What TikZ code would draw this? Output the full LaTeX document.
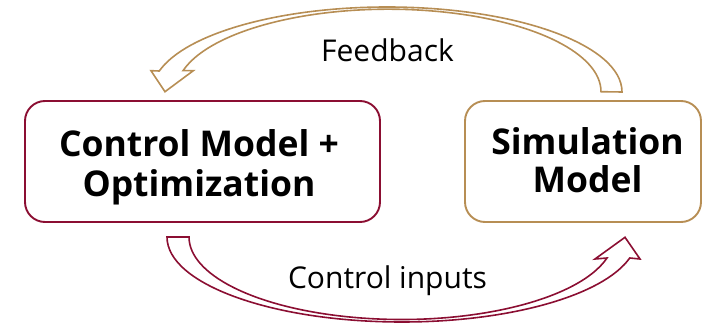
\documentclass[tikz,border=0pt]{standalone}
\usepackage{fontspec}
\setmainfont{Open Sans}
\definecolor{crim}{RGB}{139,14,50}
\definecolor{tanc}{RGB}{183,142,84}
\begin{document}
\begin{tikzpicture}[x=1pt,y=1pt,
  box/.style={draw, line width=1.9pt, rounded corners=20pt, minimum width=355pt, minimum height=121pt, inner sep=0pt},
  btext/.style={font=\bfseries\fontsize{35.5}{40}\selectfont, inner sep=0pt, anchor=base},
  lbl/.style={font=\fontsize{30}{36}\selectfont, inner sep=0pt, anchor=base},
  block/.style={line width=1.6pt, line join=miter}]
\useasboundingbox (0,0) rectangle (702,324);
\node[box, draw=crim] (cm) at (202.5,162.5) {};
\node[box, draw=tanc, minimum width=236pt] (sm) at (583,162.5) {};
\node[btext] (cm1) at (199,167.3) {Control Model +};
\node[btext] (cm2) at (199,127.3) {Optimization};
\node[btext] (sm1) at (587.5,169) {Simulation};
\node[btext] (sm2) at (587.5,131) {Model};
% Feedback block arrow
\draw[block, tanc] (622,232) arc[start angle=0, end angle=165.7, x radius=235pt, y radius=85pt]
  -- (151,253.3) -- (165,232.3) -- (193.3,253.3) -- (183,253.3)
  arc[start angle=165.25, end angle=0, x radius=212.5pt, y radius=82.5pt] -- cycle;
% Control inputs block arrow
\draw[block, crim] (167,87) arc[start angle=180, end angle=345.7, x radius=235pt, y radius=85pt]
  -- (640,65) -- (625,86.7) -- (595,65) -- (607,66)
  arc[start angle=345.25, end angle=180, x radius=212.5pt, y radius=82.5pt] -- cycle;
\node[lbl] (fb) at (387.5,262) {Feedback};
\node[lbl] (ci) at (387.5,35.7) {Control inputs};
\end{tikzpicture}
\end{document}
